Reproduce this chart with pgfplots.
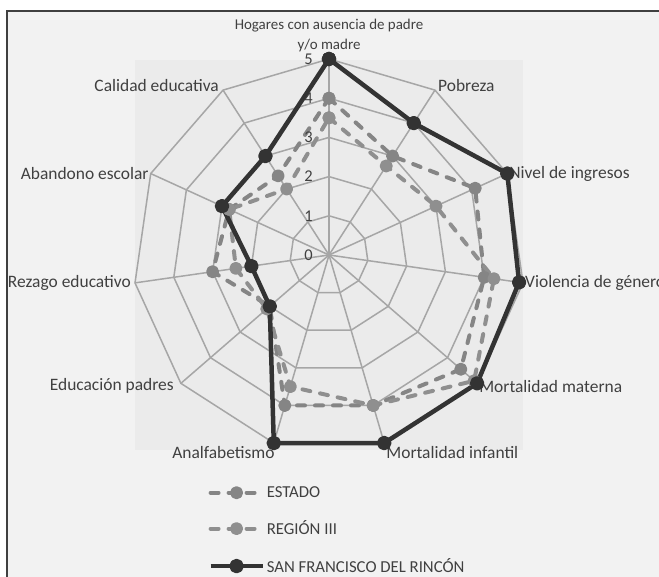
\documentclass[border=0pt]{standalone}
\usepackage{pgfplots}
\pgfplotsset{compat=1.18}
\usepgfplotslibrary{polar}
\usepackage{pgfplotstable}
\usepackage{fontspec}
\setmainfont{Carlito}

\definecolor{darkser}{HTML}{333333}
\definecolor{estadoc}{HTML}{858585}
\definecolor{regionc}{HTML}{8F8F8F}
\definecolor{gridc}{HTML}{A6A6A6}
\definecolor{chartbg}{HTML}{F2F2F2}
\definecolor{plotbg}{HTML}{EBEBEB}
\definecolor{txt}{HTML}{404040}

% angle (deg) and value, axes clockwise from the top
\pgfplotstableread{
ang val
90 4.0
57.2727 3.0
24.5455 4.1
-8.1818 4.0
-40.9091 4.45
-73.6364 4.0
-106.3636 4.0
-139.0909 2.0
-171.8182 3.0
-204.5455 2.8
-237.2727 2.4
-270 4.0
}\estado

\pgfplotstableread{
ang val
90 3.5
57.2727 2.7
24.5455 3.0
-8.1818 4.25
-40.9091 4.9
-73.6364 4.0
-106.3636 3.5
-139.0909 2.1
-171.8182 2.4
-204.5455 2.8
-237.2727 2.0
-270 3.5
}\region

\pgfplotstableread{
ang val
90 5
57.2727 4
24.5455 5
-8.1818 4.9
-40.9091 5
-73.6364 5
-106.3636 5
-139.0909 2
-171.8182 2
-204.5455 3
-237.2727 3
-270 5
}\sanfco

\begin{document}
\begin{tikzpicture}[x=1bp,y=1bp]
\clip (0,0) rectangle (659,577);
\fill[white] (0,0) rectangle (659,577);
\filldraw[fill=chartbg, draw=txt, line width=1.5bp] (7,-20) rectangle (690,566);
\fill[plotbg] (135,127) rectangle (523,517);
\begin{polaraxis}[
  at={(329bp,322bp)}, anchor=center,
  scale only axis, width=392bp, height=392bp,
  xmin=0, xmax=360, ymin=0, ymax=5,
  hide axis, clip=false,
  font=\fontsize{16.5}{19}\selectfont,
  legend cell align=left,
  legend style={at={(0.184,-0.08)}, anchor=north west, draw=none, fill=none,
    text=txt, row sep=18bp,
    nodes={font=\fontsize{16.8}{20}\selectfont},
    /tikz/every even column/.append style={column sep=2bp}},
  legend image code/.code={
    \draw[#1, mark repeat=2, mark phase=2] plot coordinates {(0bp,0bp) (26bp,0bp) (52bp,0bp)};},
]
\pgfplotsinvokeforeach{1,2,3,4,5}{
  \addplot[gridc, line width=1.5bp, no marks, forget plot] coordinates {
    (90,#1) (57.2727,#1) (24.5455,#1) (-8.1818,#1) (-40.9091,#1) (-73.6364,#1)
    (-106.3636,#1) (-139.0909,#1) (-171.8182,#1) (-204.5455,#1) (-237.2727,#1) (-270,#1)};
}
\pgfplotsinvokeforeach{90,57.2727,24.5455,-8.1818,-40.9091,-73.6364,-106.3636,-139.0909,-171.8182,-204.5455,-237.2727}{
  \addplot[gridc, line width=1.5bp, no marks, forget plot] coordinates {(#1,0) (#1,5)};
}

\addplot[estadoc, line width=4bp, line cap=round, line join=round,
  dash pattern=on 8bp off 10bp, mark=*, mark size=4.5bp,
  mark options={solid, fill=estadoc}] table[x=ang, y=val] {\estado};
\addlegendentry{ESTADO}
\addplot[regionc, line width=4bp, line cap=round, line join=round,
  dash pattern=on 8bp off 10bp, mark=*, mark size=4.5bp,
  mark options={solid, fill=regionc}] table[x=ang, y=val] {\region};
\addlegendentry{REGIÓN III}
\addplot[darkser, line width=4.5bp, line join=round, mark=*, mark size=5bp,
  mark options={solid, fill=darkser}] table[x=ang, y=val] {\sanfco};
\addlegendentry{SAN FRANCISCO DEL RINCÓN}

\pgfplotsinvokeforeach{0,1,2,3,4,5}{
  \node[anchor=east, text=txt, inner sep=0pt, xshift=-16bp] at (axis cs:90,#1) {#1};
}

\begin{scope}[every node/.style={text=txt, inner sep=2bp}, font=\fontsize{17.5}{20}\selectfont]
\node[anchor=south, align=center, yshift=5bp, font=\fontsize{15}{20}\selectfont] at (axis cs:90,5) {Hogares con ausencia de padre\\y/o madre};
\node[anchor=west, xshift=1bp, yshift=5bp] at (axis cs:57.2727,5) {Pobreza};
\node[anchor=west] at (axis cs:24.5455,5) {Nivel de ingresos};
\node[anchor=west] at (axis cs:-8.1818,5) {Violencia de género};
\node[anchor=west, yshift=-3bp] at (axis cs:-40.9091,5) {Mortalidad materna};
\node[anchor=north west, yshift=-1bp] at (axis cs:-73.6364,5) {Mortalidad infantil};
\node[anchor=north east, xshift=3bp, yshift=-1bp] at (axis cs:-106.3636,5) {Analfabetismo};
\node[anchor=east, xshift=-5bp, yshift=-3bp] at (axis cs:-139.0909,5) {Educación padres};
\node[anchor=east, xshift=-2bp] at (axis cs:-171.8182,5) {Rezago educativo};
\node[anchor=east] at (axis cs:-204.5455,5) {Abandono escolar};
\node[anchor=east, xshift=-2bp, yshift=5bp] at (axis cs:-237.2727,5) {Calidad educativa};
\end{scope}
\end{polaraxis}
\end{tikzpicture}
\end{document}
